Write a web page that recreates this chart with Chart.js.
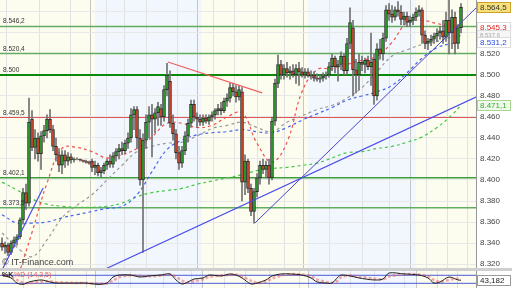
<!DOCTYPE html>
<html>
<head>
<meta charset="utf-8">
<script src="https://cdn.jsdelivr.net/npm/chart.js@4.4.1/dist/chart.umd.min.js"></script>
<style>
  html, body { margin: 0; padding: 0; background: #fff; }
  #wrap { position: relative; width: 512px; height: 288px; overflow: hidden; }
  #main { position: absolute; left: 0; top: 0; }
  #sep { position: absolute; left: 0; top: 268px; width: 512px; height: 3px; background: #cfcfcf; }
  #osc { position: absolute; left: 0; top: 271px; }
</style>
</head>
<body>
<div id="wrap">
  <canvas id="main" width="512" height="268"></canvas>
  <div id="sep"></div>
  <canvas id="osc" width="512" height="17"></canvas>
</div>
<script>
// candles, one per period (index 0..153)
const opens = [
  8340,8336,8338,8331,8340,8343,8346,8362,8388,8378,
  8458,8431,8440,8425,8442,8447,8458,8448,8432,8424,
  8414,8424,8418,8422,8419,8420,8420,8419,8418,8417,
  8418,8412,8414,8407,8409,8414,8418,8415,8423,8427,
  8430,8428,8435,8440,8462,8467,8440,8400,8438,8455,
  8462,8458,8464,8468,8460,8486,8494,8454,8444,8426,
  8416,8428,8442,8454,8472,8460,8458,8455,8459,8456,
  8460,8462,8466,8468,8466,8475,8478,8488,8484,8479,
  8484,8398,8418,8392,8370,8389,8402,8414,8410,8414,
  8402,8456,8492,8510,8500,8506,8502,8504,8500,8506,
  8503,8500,8503,8499,8500,8497,8496,8497,8499,8500,
  8508,8516,8508,8510,8518,8504,8530,8545,8505,8500,
  8512,8510,8514,8508,8515,8480,8525,8520,8535,8562,
  8558,8555,8562,8560,8553,8556,8550,8552,8555,8560,
  8562,8538,8530,8532,8534,8537,8540,8542,8536,8552,
  8540,8555,8530,8545
];
const highs = [
  8345,8341,8340,8342,8346,8348,8364,8392,8396,8478,
  8466,8448,8445,8446,8452,8462,8467,8452,8440,8430,
  8428,8428,8426,8425,8421,8421,8420,8419,8419,8418,
  8420,8418,8416,8412,8416,8420,8424,8426,8430,8434,
  8436,8438,8445,8468,8470,8470,8448,8444,8462,8470,
  8472,8468,8474,8472,8490,8511,8504,8462,8448,8432,
  8432,8446,8458,8476,8476,8464,8462,8462,8462,8462,
  8465,8468,8472,8474,8478,8482,8492,8492,8490,8490,
  8488,8424,8420,8396,8392,8406,8418,8420,8418,8420,
  8460,8496,8519,8514,8510,8512,8508,8510,8510,8512,
  8507,8506,8506,8504,8503,8501,8500,8502,8503,8512,
  8520,8518,8514,8522,8520,8535,8564,8552,8515,8520,
  8518,8516,8518,8540,8520,8530,8534,8540,8566,8568,
  8566,8565,8570,8566,8560,8560,8556,8558,8564,8566,
  8564,8542,8535,8538,8540,8544,8546,8552,8560,8571,
  8562,8560,8548,8568
];
const lows = [
  8333,8330,8328,8329,8336,8338,8344,8358,8372,8375,
  8428,8420,8418,8410,8436,8440,8445,8428,8418,8408,
  8406,8412,8414,8416,8417,8419,8418,8417,8416,8415,
  8408,8405,8404,8403,8406,8410,8412,8412,8418,8420,
  8424,8425,8430,8436,8448,8430,8395,8331,8430,8440,
  8422,8445,8452,8452,8456,8480,8450,8438,8420,8410,
  8412,8424,8436,8450,8456,8450,8452,8452,8454,8453,
  8456,8458,8462,8462,8464,8470,8474,8480,8474,8476,
  8380,8386,8388,8366,8359,8384,8396,8406,8402,8396,
  8400,8452,8488,8496,8496,8498,8496,8498,8492,8490,
  8498,8497,8498,8496,8494,8494,8493,8494,8496,8498,
  8504,8502,8494,8505,8500,8500,8525,8480,8483,8486,
  8504,8502,8505,8490,8472,8476,8515,8514,8532,8552,
  8550,8552,8556,8548,8548,8546,8546,8548,8552,8556,
  8530,8525,8524,8528,8530,8532,8534,8530,8532,8520,
  8525,8520,8525,8540
];
const closes = [
  8336,8338,8331,8340,8343,8346,8362,8388,8378,8455,
  8431,8440,8425,8442,8447,8458,8448,8432,8424,8414,
  8424,8418,8422,8419,8420,8420,8419,8418,8417,8416,
  8412,8414,8407,8409,8414,8418,8415,8423,8427,8430,
  8428,8435,8440,8462,8467,8440,8400,8438,8455,8462,
  8458,8464,8470,8460,8486,8500,8454,8444,8426,8416,
  8428,8442,8454,8472,8460,8458,8455,8459,8456,8460,
  8462,8466,8468,8466,8475,8478,8488,8484,8479,8486,
  8398,8418,8392,8370,8389,8402,8414,8410,8414,8402,
  8456,8492,8510,8500,8506,8502,8504,8500,8506,8503,
  8500,8503,8499,8500,8497,8496,8497,8499,8500,8508,
  8516,8508,8510,8518,8504,8530,8550,8505,8500,8512,
  8510,8514,8508,8512,8480,8525,8520,8535,8562,8558,
  8555,8562,8560,8553,8556,8550,8552,8555,8560,8562,
  8538,8530,8532,8534,8537,8540,8542,8536,8552,8540,
  8555,8530,8545,8564.5
];

// moving averages, read every 5 periods
const maIdx   = [0,5,10,15,20,25,30,35,40,45,50,55,60,65,70,75,80,85,90,95,100,105,110,115,120,125,130,135,140,145,150,153];
const maRed   = [null,8305,8350,8397,8430,8431,8427,8421,8424,8430,8441,8454,8454,8450,8452,8460,8464,8435,8417,8436,8484,8505,8506,8510,8514,8518,8531,8550,8552,8549,8546,8545.3];
const maGray  = [8349.5,8336,8327,8343,8364,8376,8386,8400,8414,8427,8432,8435,8436,8442,8449,8452,8455,8450,8446,8455,8461,8467,8471,8478,8488,8503,8518,8524,8529,8532,8536,8537.6];
const maBlue  = [8367,8359,8359,8360,8364,8367,8370,8373,8375,8386,8408,8429,8438,8443,8445,8446,8448,8446,8445,8450,8457,8463,8469,8476,8480,8484,8490,8502,8516,8526,8530,8531.2];
const maGreen = [8398,8390.5,8382,8377,8375,8374,8374,8375,8378,8384,8388,8390,8392,8396,8399,8402,8405,8409,8411,8412,8414,8416,8421,8426,8427,8430,8432,8436,8441,8450,8462,8471.1];

// horizontal levels and drawn trend lines [period, price]
const levels = [8546.2, 8520.4, 8500, 8459.5, 8402.1, 8373.5];
const levelColors = ['#62ad62', '#62ad62', '#0b8a0b', '#e05555', '#3c9e3c', '#62ad62'];
const levelWidths = [1.5, 1.5, 2, 1, 1.5, 1.5];
const trendLeft  = [[0.3, 8316], [13.7, 8392.4]];
const trendLong  = [[35, 8316], [158, 8479]];
const trendSteep = [[84.3, 8359], [158, 8563.8]];
const trendRed   = [[55.3, 8512.4], [86.7, 8482.9]];

// time grid and session breaks (period units)
const gridX = [7, 17.7, 28, 31, 38.7, 42.7, 53.7, 63.3, 66.7, 74, 81.3, 89, 99.3, 102, 116, 124.3, 134.3, 138, 145, 151.7];
const dayBreaks = [31, 66.7, 102, 138];
const yTicks = [8320, 8340, 8360, 8380, 8400, 8420, 8440, 8460, 8480, 8500, 8520, 8540, 8560];
const yHidden = [8540, 8560];

// stochastic %K / %D
const oscIdx = [0,3,5,7,9,13,16,18,22,25,28,32,35,37,39,43,46,49,53,56,58,60,62,64,67,69,73,76,78,80,83,85,88,90,93,96,100,103,105,108,110,112,113,116,119,124,127,129,134,139,142,144,146,149,152,153];
const oscK = [80,60,22,12,30,45,30,22,22,22,22,12,22,67,82,82,67,75,82,90,45,15,30,52,60,82,75,90,82,60,15,22,45,75,90,90,82,60,30,22,22,67,82,75,60,45,52,97,90,82,60,22,30,67,45,43.182];
const oscD = [85,70,45,25,20,32,36,28,24,22,22,18,18,40,65,80,75,72,78,85,70,40,25,35,50,68,78,82,85,72,40,22,32,55,78,88,86,72,48,30,24,40,65,78,70,55,50,70,88,86,72,45,30,45,55,50];
const oscLevels = [80, 20];

const xMin = -0.667, xMax = 158;
const yMin = 8316.2, yMax = 8571.4;
const FONT = '"Liberation Sans", Arial, sans-serif';

function fmtDE(v, dec) {
  const parts = v.toFixed(dec).split('.');
  const ip = parts[0].replace(/\B(?=(\d{3})+(?!\d))/g, '.');
  return parts[1] ? ip + ',' + parts[1] : ip;
}

function toPoints(xs, ys) {
  return xs.map((x, k) => ({ x: x, y: ys[k] }));
}

function segment(pairs) {
  return pairs.map(p => ({ x: p[0], y: p[1] }));
}

function drawBox(ctx, x, y, text, st) {
  ctx.fillStyle = st.bg;
  ctx.fillRect(x, Math.round(y) - 5, 34, 11);
  ctx.strokeStyle = st.border;
  ctx.lineWidth = 1;
  ctx.strokeRect(x + 0.5, Math.round(y) - 4.5, 33, 10);
  ctx.fillStyle = st.color;
  ctx.font = (st.size || 8) + 'px ' + FONT;
  ctx.textBaseline = 'middle';
  ctx.textAlign = 'left';
  ctx.fillText(text, x + 3, Math.round(y) + 0.5);
}

const bandPlugin = {
  id: 'bands',
  beforeDraw(chart) {
    const { ctx, chartArea: a, scales: { x } } = chart;
    ctx.save();
    ctx.fillStyle = '#fff';
    ctx.fillRect(0, 0, chart.width, chart.height);
    const edges = [x.min].concat(dayBreaks, [x.max]);
    for (let k = 0; k < edges.length - 1; k++) {
      const x0 = x.getPixelForValue(edges[k]);
      const x1 = x.getPixelForValue(edges[k + 1]);
      ctx.fillStyle = k % 2 ? '#f2f7fd' : '#fdfdef';
      ctx.fillRect(x0, a.top, x1 - x0, a.bottom - a.top);
    }
    ctx.restore();
  }
};

const notePlugin = {
  id: 'notes',
  afterDraw(chart) {
    const { ctx, chartArea: a, scales: { y } } = chart;
    ctx.save();
    ctx.font = '6.5px ' + FONT;
    ctx.fillStyle = '#333';
    ctx.textAlign = 'left';
    ctx.textBaseline = 'alphabetic';
    levels.forEach(v => {
      ctx.fillText(fmtDE(v, Number.isInteger(v) ? 0 : 1), a.left + 3, y.getPixelForValue(v) - 3);
    });
    ctx.font = '9px ' + FONT;
    ctx.fillStyle = '#444';
    ctx.fillText('\u00a9 IT-Finance.com', a.left + 2, a.bottom - 3);

    const boxes = [
      { v: closes[closes.length - 1], st: { bg: '#f5e07c', border: '#c9a227', color: '#333' } },
      { v: maRed[maRed.length - 1], st: { bg: '#fff', border: '#dcdcdc', color: '#e02424' } },
      { v: maGray[maGray.length - 1], st: { bg: '#f6f6f6', border: '#dcdcdc', color: '#aaa', size: 6 } },
      { v: maBlue[maBlue.length - 1], st: { bg: '#fff', border: '#dcdcdc', color: '#2a4de0' } },
      { v: maGreen[maGreen.length - 1], st: { bg: '#effaea', border: '#a8d890', color: '#3aa83a' } }
    ];
    boxes.forEach(b => drawBox(ctx, a.right + 1, y.getPixelForValue(b.v), fmtDE(b.v, 1), b.st));
    ctx.restore();
  }
};

const candleIdx = closes.map((c, i) => i);

new Chart(document.getElementById('main').getContext('2d'), {
  type: 'bar',
  data: {
    datasets: [
      { type: 'line', data: segment(trendLeft), borderColor: '#4a4aee', borderWidth: 1.2, pointRadius: 0, order: 0 },
      { type: 'line', data: segment(trendLong), borderColor: '#4a4aee', borderWidth: 1.2, pointRadius: 0, order: 0 },
      { type: 'line', data: segment(trendSteep), borderColor: '#4646c4', borderWidth: 1, pointRadius: 0, order: 0 },
      { type: 'line', data: segment(trendRed), borderColor: '#f06060', borderWidth: 1.2, pointRadius: 0, order: 0 },
      {
        data: candleIdx.map(i => ({ x: i, y: [opens[i], closes[i]] })),
        backgroundColor: candleIdx.map(i => closes[i] >= opens[i] ? '#2aa52a' : '#d9452b'),
        borderColor: '#2d2d2d', borderWidth: 1, borderSkipped: false,
        barThickness: 3, grouped: false, order: 1
      },
      {
        data: candleIdx.map(i => ({ x: i, y: [lows[i], highs[i]] })),
        backgroundColor: '#707070', barThickness: 1, grouped: false, order: 2
      },
      { type: 'line', data: toPoints(maIdx, maRed), borderColor: '#ee5050', borderWidth: 1.2, borderDash: [3, 3], pointRadius: 0, tension: 0.4, order: 3 },
      { type: 'line', data: toPoints(maIdx, maGray), borderColor: '#9a9a9a', borderWidth: 1.2, borderDash: [3, 3], pointRadius: 0, tension: 0.4, order: 3 },
      { type: 'line', data: toPoints(maIdx, maBlue), borderColor: '#4466ee', borderWidth: 1.2, borderDash: [3, 3], pointRadius: 0, tension: 0.4, order: 3 },
      { type: 'line', data: toPoints(maIdx, maGreen), borderColor: '#44c844', borderWidth: 1.2, borderDash: [3, 3], pointRadius: 0, tension: 0.4, order: 3 }
    ].concat(levels.map((v, k) => ({
      type: 'line', data: [{ x: -1, y: v }, { x: 159, y: v }],
      borderColor: levelColors[k], borderWidth: levelWidths[k], pointRadius: 0, order: 4
    })))
  },
  options: {
    responsive: false,
    animation: false,
    devicePixelRatio: 1,
    layout: { padding: 0 },
    plugins: { legend: { display: false }, tooltip: { enabled: false } },
    scales: {
      x: {
        type: 'linear', min: xMin, max: xMax, offset: false,
        afterBuildTicks: s => { s.ticks = gridX.map(v => ({ value: v })); },
        ticks: { display: false },
        grid: { color: c => dayBreaks.includes(c.tick && c.tick.value) ? '#c6c6c6' : '#e2e2e2', drawTicks: false },
        border: { display: false },
        afterFit: s => { s.height = 0; s.paddingLeft = 0; s.paddingRight = 0; }
      },
      y: {
        position: 'right', min: yMin, max: yMax,
        afterBuildTicks: s => { s.ticks = yTicks.map(v => ({ value: v })); },
        ticks: {
          callback: v => yHidden.includes(v) ? '' : fmtDE(v, 0),
          font: { family: FONT, size: 8 }, color: '#444', padding: 4
        },
        grid: { color: '#e8e8e8', drawTicks: false },
        border: { color: '#999' },
        afterFit: s => { s.width = 36; s.paddingTop = 0; s.paddingBottom = 0; }
      }
    }
  },
  plugins: [bandPlugin, notePlugin]
});

const oscNotes = {
  id: 'oscNotes',
  afterDraw(chart) {
    const { ctx, chartArea: a, scales: { y } } = chart;
    ctx.save();
    ctx.textAlign = 'left';
    ctx.textBaseline = 'alphabetic';
    ctx.font = 'bold 7px ' + FONT;
    ctx.fillStyle = '#222';
    ctx.fillText('%K', a.left + 2, 6);
    ctx.font = '7px ' + FONT;
    ctx.fillStyle = '#e06060';
    ctx.fillText('%D (14,3,5)', a.left + 14, 6);
    const last = oscK[oscK.length - 1];
    drawBox(ctx, a.right + 1, y.getPixelForValue(last), fmtDE(last, 3),
      { bg: '#fff', border: '#999', color: '#222' });
    ctx.restore();
  }
};

new Chart(document.getElementById('osc').getContext('2d'), {
  type: 'line',
  data: {
    datasets: [
      { data: toPoints(oscIdx, oscK), borderColor: '#222', borderWidth: 1, pointRadius: 0, tension: 0.3 },
      { data: toPoints(oscIdx, oscD), borderColor: 'rgba(235,100,100,0.55)', borderWidth: 2.5, borderDash: [3, 2], pointRadius: 0, tension: 0.3 }
    ].concat(oscLevels.map(v => ({
      data: [{ x: -1, y: v }, { x: 159, y: v }], borderColor: '#4a5ad8', borderWidth: 1, pointRadius: 0
    })))
  },
  options: {
    responsive: false,
    animation: false,
    devicePixelRatio: 1,
    layout: { padding: 0 },
    plugins: { legend: { display: false }, tooltip: { enabled: false } },
    scales: {
      x: {
        type: 'linear', min: xMin, max: xMax, offset: false,
        afterBuildTicks: s => { s.ticks = gridX.map(v => ({ value: v })); },
        ticks: { display: false },
        grid: { color: c => dayBreaks.includes(c.tick && c.tick.value) ? '#c6c6c6' : '#e2e2e2', drawTicks: false },
        border: { display: false },
        afterFit: s => { s.height = 0; s.paddingLeft = 0; s.paddingRight = 0; }
      },
      y: {
        position: 'right', min: -15, max: 112,
        ticks: { display: false },
        grid: { display: false, drawTicks: false },
        border: { color: '#999' },
        afterFit: s => { s.width = 36; s.paddingTop = 0; s.paddingBottom = 0; }
      }
    }
  },
  plugins: [bandPlugin, oscNotes]
});
</script>
</body>
</html>
